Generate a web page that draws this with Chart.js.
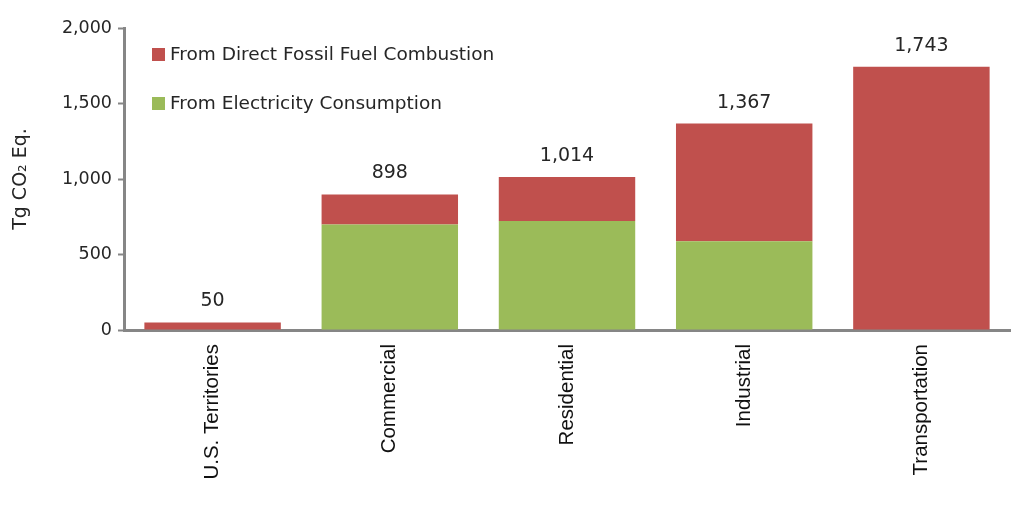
<!DOCTYPE html>
<html>
<head>
<meta charset="utf-8">
<script src="https://cdn.jsdelivr.net/npm/chart.js@4"></script>
<style>
  html, body { margin: 0; padding: 0; background: #fff; }
  #wrap { width: 1027px; height: 508px; }
</style>
</head>
<body>
<div id="wrap"><canvas id="sectorChart" width="1027" height="508"></canvas></div>
<script>
// sectors and emissions (Tg CO2 Eq.)
var sectors = ['U.S. Territories', 'Commercial', 'Residential', 'Industrial', 'Transportation'];
var electricity = [0, 698, 722, 588, 4];
var directFossil = [50, 200, 292, 779, 1739];
var totals = [50, 898, 1014, 1367, 1743];
var yTicks = [0, 500, 1000, 1500, 2000];

var RED = '#C0504D';
var GREEN = '#9BBB59';
var AXIS = '#868686';
var TXT = '#262626';
var tickFont = "Tahoma, 'DejaVu Sans', sans-serif";

function fmt(v) {
    return v.toLocaleString('en-US');
}

// totals above each bar
var totalsPlugin = {
    id: 'totals',
    afterDatasetsDraw: function(chart) {
        var ctx = chart.ctx;
        var meta = chart.getDatasetMeta(1);
        var y = chart.scales.y;
        ctx.save();
        ctx.font = '19px ' + tickFont;
        ctx.fillStyle = TXT;
        ctx.textAlign = 'center';
        ctx.textBaseline = 'middle';
        meta.data.forEach(function(bar, i) {
            ctx.fillText(fmt(totals[i]), bar.x, y.getPixelForValue(totals[i]) - 21);
        });
        ctx.restore();
    }
};

// legend drawn inside the plot area
var legendPlugin = {
    id: 'insideLegend',
    afterDraw: function(chart) {
        var ctx = chart.ctx;
        var left = chart.chartArea.left;
        var items = [
            { label: chart.data.datasets[1].label, color: RED, y: 54 },
            { label: chart.data.datasets[0].label, color: GREEN, y: 103 }
        ];
        ctx.save();
        ctx.font = '18.5px ' + tickFont;
        ctx.textBaseline = 'middle';
        items.forEach(function(it) {
            ctx.fillStyle = it.color;
            ctx.fillRect(left + 28, it.y - 6, 13, 13);
            ctx.fillStyle = TXT;
            ctx.fillText(it.label, left + 46, it.y + 1);
        });
        ctx.restore();
    }
};

var ctx = document.getElementById('sectorChart').getContext('2d');
new Chart(ctx, {
    type: 'bar',
    data: {
        labels: sectors,
        datasets: [{
            label: 'From Electricity Consumption',
            data: electricity,
            backgroundColor: GREEN,
            barPercentage: 0.77,
            categoryPercentage: 1.0
        }, {
            label: 'From Direct Fossil Fuel Combustion',
            data: directFossil,
            backgroundColor: RED,
            barPercentage: 0.77,
            categoryPercentage: 1.0
        }]
    },
    options: {
        responsive: false,
        animation: false,
        layout: { padding: { top: 28, right: 17, bottom: 0, left: 0 } },
        plugins: {
            legend: { display: false },
            tooltip: { enabled: false }
        },
        scales: {
            x: {
                stacked: true,
                grid: { display: false, drawTicks: false },
                border: { color: AXIS, width: 3 },
                ticks: {
                    color: '#111',
                    font: { family: "'Liberation Sans', Arial, sans-serif", size: 20.5 },
                    maxRotation: 90,
                    minRotation: 90,
                    padding: 14
                },
                afterFit: function(scale) { scale.height = 178; }
            },
            y: {
                stacked: true,
                min: 0,
                max: 2000,
                afterBuildTicks: function(scale) {
                    scale.ticks = yTicks.map(function(v) { return { value: v }; });
                },
                grid: {
                    display: true,
                    drawOnChartArea: false,
                    drawTicks: true,
                    tickLength: 6,
                    tickWidth: 2,
                    color: AXIS
                },
                border: { color: AXIS, width: 3 },
                ticks: {
                    color: TXT,
                    font: { family: tickFont, size: 17.5 },
                    padding: 6,
                    callback: function(v) { return fmt(v); }
                },
                title: {
                    display: true,
                    text: 'Tg CO\u2082 Eq.',
                    color: TXT,
                    font: { family: tickFont, size: 19 },
                    padding: { top: 10, bottom: 0 }
                },
                afterFit: function(scale) { scale.width = 124; }
            }
        }
    },
    plugins: [totalsPlugin, legendPlugin]
});
</script>
</body>
</html>
